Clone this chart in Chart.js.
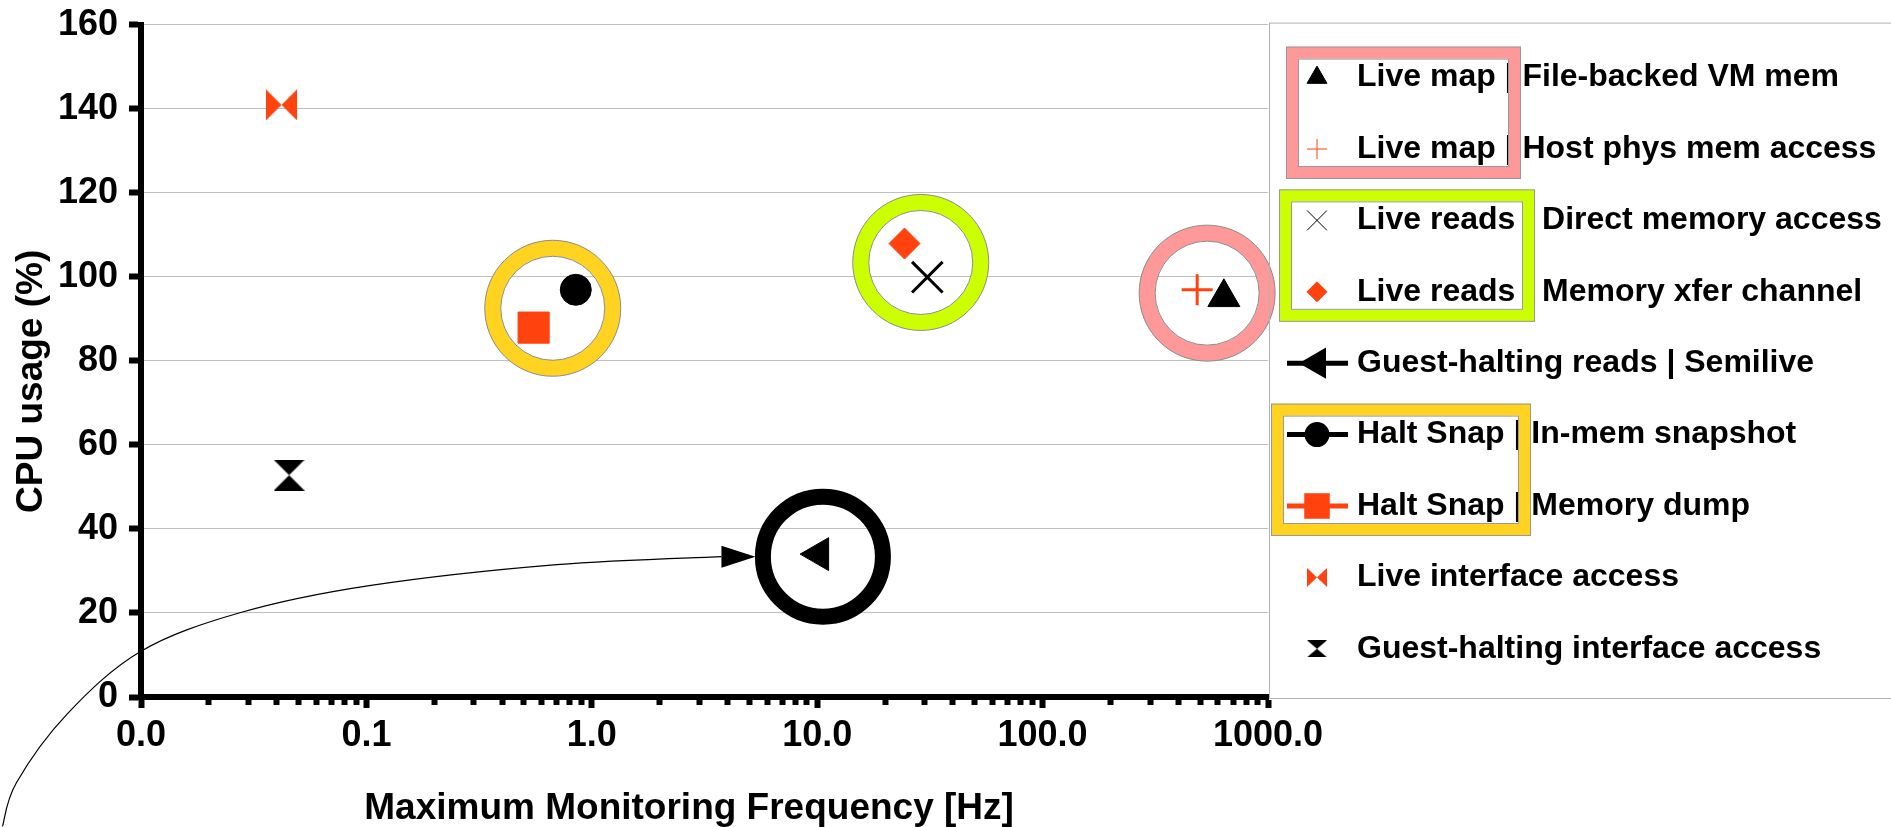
<!DOCTYPE html>
<html>
<head>
<meta charset="utf-8">
<script src="https://cdn.jsdelivr.net/npm/chart.js@4.4.1/dist/chart.umd.min.js"></script>
<style>
  html, body { margin: 0; padding: 0; background: #fff; }
  canvas { display: block; }
</style>
</head>
<body>
<canvas id="grafico" width="1891" height="827"></canvas>
<script>
// values: x = max monitoring frequency (Hz), y = CPU usage (%)
const seriesNames = [
  'Live map | File-backed VM mem',
  'Live map | Host phys mem access',
  'Live reads | Direct memory access',
  'Live reads | Memory xfer channel',
  'Guest-halting reads | Semilive',
  'Halt Snap | In-mem snapshot',
  'Halt Snap | Memory dump',
  'Live interface access',
  'Guest-halting interface access'
];
const seriesX = [637, 485, 30.8, 24.4, 10.2, 0.849, 0.552, 0.042, 0.0454];
const seriesY = [95.1, 96.9, 99.9, 107.9, 34.0, 96.9, 87.9, 140.9, 52.8];

const xDecades = [0.01, 0.1, 1, 10, 100, 1000];
const xTickLabels = ['0.0', '0.1', '1.0', '10.0', '100.0', '1000.0'];
const yMin = 0, yMax = 160, yStep = 20;

// highlight rings around groups of points
const ringX = [0.671, 28.8, 537, 10.6];
const ringY = [92.5, 103.4, 96.1, 33.4];

// hand-drawn curved arrow, points along it in data units (it starts off the axes)
const arrowX = [0.00243, 0.0028, 0.00471, 0.01, 0.0277, 0.103, 0.70, 3.76];
const arrowY = [-30.8, -20.4, -4.0, 10.9, 20.1, 26.5, 31.5, 33.4];
const arrowTipX = 5.32;

const rojo = '#ff420e';
const negro = '#000000';
const fuente = '"Liberation Sans", Arial, sans-serif';

function corbata(w, h, color, vertical) {
    const c = document.createElement('canvas');
    c.width = w;
    c.height = h;
    const g = c.getContext('2d');
    g.fillStyle = color;
    g.beginPath();
    if (vertical) {
        g.moveTo(0, 0); g.lineTo(w, 0); g.lineTo(w / 2, h / 2); g.closePath();
        g.moveTo(0, h); g.lineTo(w, h); g.lineTo(w / 2, h / 2); g.closePath();
    } else {
        g.moveTo(0, 0); g.lineTo(0, h); g.lineTo(w / 2, h / 2); g.closePath();
        g.moveTo(w, 0); g.lineTo(w, h); g.lineTo(w / 2, h / 2); g.closePath();
    }
    g.fill();
    return c;
}

const estilos = [
    { forma: 'triangle', r: 18.5, rl: 11.5, color: negro, borde: 1 },
    { forma: 'cross', r: 15.5, rl: 10, color: rojo, borde: 3, bordeL: 2 },
    { forma: 'crossRot', r: 21.6, rl: 14, color: negro, borde: 3, bordeL: 2 },
    { forma: 'rectRot', r: 15.5, rl: 10, color: rojo, borde: 1 },
    { forma: 'triangle', giro: 270, r: 19, rl: 13, color: negro, borde: 1, linea: true },
    { forma: 'circle', r: 15.5, rl: 10, color: negro, borde: 1, linea: true },
    { forma: 'rect', r: 22, rl: 14.5, color: rojo, borde: 1, linea: true },
    { forma: corbata(31, 31, rojo, false), formaL: corbata(20, 19, rojo, false), color: rojo },
    { forma: corbata(31, 31, negro, true), formaL: corbata(20, 17, negro, true), color: negro }
];

const anillos = ['#ffd320', '#ccff00', '#ff9999', negro];

// coloured frames drawn over the legend, offsets from the legend's left edge
const marcos = [
    { filas: [0, 1], color: '#ff9999', x0: 17, x1: 252 },
    { filas: [2, 3], color: '#ccff00', x0: 10, x1: 266 },
    { filas: [5, 6], color: '#ffd320', x0: 2, x1: 262 }
];

const datasets = seriesNames.map((nombre, i) => {
    const e = estilos[i];
    return {
        label: nombre,
        data: [{ x: seriesX[i], y: seriesY[i] }],
        showLine: !!e.linea,
        borderColor: e.color,
        borderWidth: 5,
        pointStyle: e.forma,
        pointRadius: e.r || 16,
        pointRotation: e.giro || 0,
        pointBackgroundColor: e.color,
        pointBorderColor: e.color,
        pointBorderWidth: e.borde || 0
    };
});

const ticksX = [];
xDecades.forEach((d, i) => {
    ticksX.push(d);
    if (i < xDecades.length - 1) {
        for (let k = 2; k <= 9; k++) ticksX.push(d * k);
    }
});

function punto(ctx, opts, x, y) {
    if (Chart.helpers && Chart.helpers.drawPoint) {
        Chart.helpers.drawPoint(ctx, opts, x, y);
    } else {
        ctx.beginPath();
        ctx.arc(x, y, opts.radius, 0, Math.PI * 2);
        ctx.fill();
    }
}

const extras = {
    id: 'extras',
    beforeDatasetsDraw(chart) {
        const { ctx, scales: { x, y } } = chart;
        ringX.forEach((v, i) => {
            const cx = x.getPixelForValue(v);
            const cy = y.getPixelForValue(ringY[i]);
            ctx.save();
            ctx.beginPath();
            ctx.arc(cx, cy, 60, 0, Math.PI * 2);
            ctx.lineWidth = 16;
            ctx.strokeStyle = anillos[i];
            ctx.stroke();
            if (anillos[i] !== negro) {
                ctx.lineWidth = 1;
                ctx.strokeStyle = '#8c8c8c';
                ctx.beginPath();
                ctx.arc(cx, cy, 68, 0, Math.PI * 2);
                ctx.stroke();
                ctx.beginPath();
                ctx.arc(cx, cy, 52, 0, Math.PI * 2);
                ctx.stroke();
            }
            ctx.restore();
        });
    },
    afterDatasetsDraw(chart) {
        // curved arrow: smooth curve through the points, then the head
        const { ctx, scales: { x, y } } = chart;
        const p = arrowX.map((v, i) => ({ x: x.getPixelForValue(v), y: y.getPixelForValue(arrowY[i]) }));
        ctx.save();
        ctx.strokeStyle = negro;
        ctx.fillStyle = negro;
        ctx.lineWidth = 1.2;
        ctx.beginPath();
        ctx.moveTo(p[0].x, p[0].y);
        for (let i = 0; i < p.length - 1; i++) {
            const p0 = p[Math.max(i - 1, 0)], p1 = p[i], p2 = p[i + 1], p3 = p[Math.min(i + 2, p.length - 1)];
            ctx.bezierCurveTo(
                p1.x + (p2.x - p0.x) / 6, p1.y + (p2.y - p0.y) / 6,
                p2.x - (p3.x - p1.x) / 6, p2.y - (p3.y - p1.y) / 6,
                p2.x, p2.y
            );
        }
        ctx.stroke();
        const fin = p[p.length - 1];
        const tx = x.getPixelForValue(arrowTipX);
        ctx.beginPath();
        ctx.moveTo(tx, fin.y);
        ctx.lineTo(fin.x, fin.y - 11);
        ctx.lineTo(fin.x, fin.y + 11);
        ctx.closePath();
        ctx.fill();
        ctx.restore();
    },
    afterDraw(chart) {
        const { ctx, chartArea: area } = chart;
        const izq = area.right + 1;
        const filaY = i => area.top + 53 + i * 71.4;
        const marcaX = izq + 48;
        const textoX = izq + 88;

        ctx.save();
        ctx.strokeStyle = '#b3b3b3';
        ctx.lineWidth = 1;
        ctx.strokeRect(izq + 0.5, area.top - 1.5, chart.width, area.bottom - area.top + 3);

        ctx.font = 'bold 32px ' + fuente;
        ctx.textBaseline = 'middle';
        ctx.textAlign = 'left';
        seriesNames.forEach((nombre, i) => {
            const e = estilos[i];
            const yy = filaY(i);
            if (e.linea) {
                ctx.strokeStyle = e.color;
                ctx.lineWidth = 5;
                ctx.beginPath();
                ctx.moveTo(marcaX - 30, yy);
                ctx.lineTo(marcaX + 31, yy);
                ctx.stroke();
            }
            ctx.fillStyle = e.color;
            ctx.strokeStyle = e.color;
            punto(ctx, {
                pointStyle: e.formaL || e.forma,
                radius: e.rl || 10,
                rotation: e.giro || 0,
                borderWidth: e.bordeL || e.borde || 0
            }, marcaX, yy);
            ctx.fillStyle = negro;
            ctx.fillText(nombre, textoX, yy);
        });

        marcos.forEach(m => {
            const x0 = izq + m.x0, x1 = izq + m.x1;
            const y0 = filaY(m.filas[0]) - 31, y1 = filaY(m.filas[1]) + 30;
            ctx.lineWidth = 12;
            ctx.strokeStyle = m.color;
            ctx.strokeRect(x0 + 6, y0 + 6, x1 - x0 - 12, y1 - y0 - 12);
            ctx.lineWidth = 1;
            ctx.strokeStyle = '#999999';
            ctx.strokeRect(x0 + 0.5, y0 + 0.5, x1 - x0 - 1, y1 - y0 - 1);
            ctx.strokeRect(x0 + 12.5, y0 + 12.5, x1 - x0 - 25, y1 - y0 - 25);
        });
        ctx.restore();
    }
};

const ctx = document.getElementById('grafico').getContext('2d');
const grafico = new Chart(ctx, {
    type: 'scatter',
    data: { datasets: datasets },
    plugins: [extras],
    options: {
        responsive: false,
        animation: false,
        events: [],
        layout: { padding: { left: 0, right: 623, top: 21, bottom: 0 } },
        plugins: {
            legend: { display: false },
            tooltip: { enabled: false }
        },
        scales: {
            x: {
                type: 'logarithmic',
                min: xDecades[0],
                max: xDecades[xDecades.length - 1],
                afterBuildTicks(scale) {
                    scale.ticks = ticksX.map(v => ({ value: v, major: xDecades.includes(v) }));
                },
                afterFit(scale) {
                    scale.height = 130;
                    scale.paddingLeft = 0;
                    scale.paddingRight = 0;
                },
                ticks: {
                    autoSkip: false,
                    maxRotation: 0,
                    minRotation: 0,
                    padding: 6,
                    color: negro,
                    font: { family: fuente, size: 36, weight: 'bold' },
                    callback(value) {
                        const k = xDecades.findIndex(d => Math.abs(d - value) < d * 1e-6);
                        return k >= 0 ? xTickLabels[k] : '';
                    }
                },
                grid: {
                    drawOnChartArea: false,
                    drawTicks: true,
                    tickLength: 11,
                    tickWidth: 6,
                    tickColor: negro,
                    tickBorderDash: c => (c.tick && c.tick.major) ? [] : [5, 40]
                },
                border: { color: negro, width: 6 },
                title: {
                    display: true,
                    text: 'Maximum Monitoring Frequency [Hz]   ',
                    color: negro,
                    padding: { top: 0, bottom: 0 },
                    font: { family: fuente, size: 37, weight: 'bold', lineHeight: 1 }
                }
            },
            y: {
                min: yMin,
                max: yMax,
                afterFit(scale) {
                    scale.width = 141;
                    scale.paddingTop = 0;
                    scale.paddingBottom = 0;
                },
                ticks: {
                    stepSize: yStep,
                    padding: 11,
                    color: negro,
                    font: { family: fuente, size: 36, weight: 'bold' }
                },
                grid: {
                    color: '#bfbfbf',
                    lineWidth: 1,
                    tickLength: 12,
                    tickWidth: 6,
                    tickColor: negro
                },
                border: { color: negro, width: 6 },
                title: {
                    display: true,
                    text: 'CPU usage (%)    ',
                    color: negro,
                    padding: { top: 13, bottom: 0 },
                    font: { family: fuente, size: 37, weight: 'bold', lineHeight: 1 }
                }
            }
        }
    }
});
</script>
</body>
</html>
